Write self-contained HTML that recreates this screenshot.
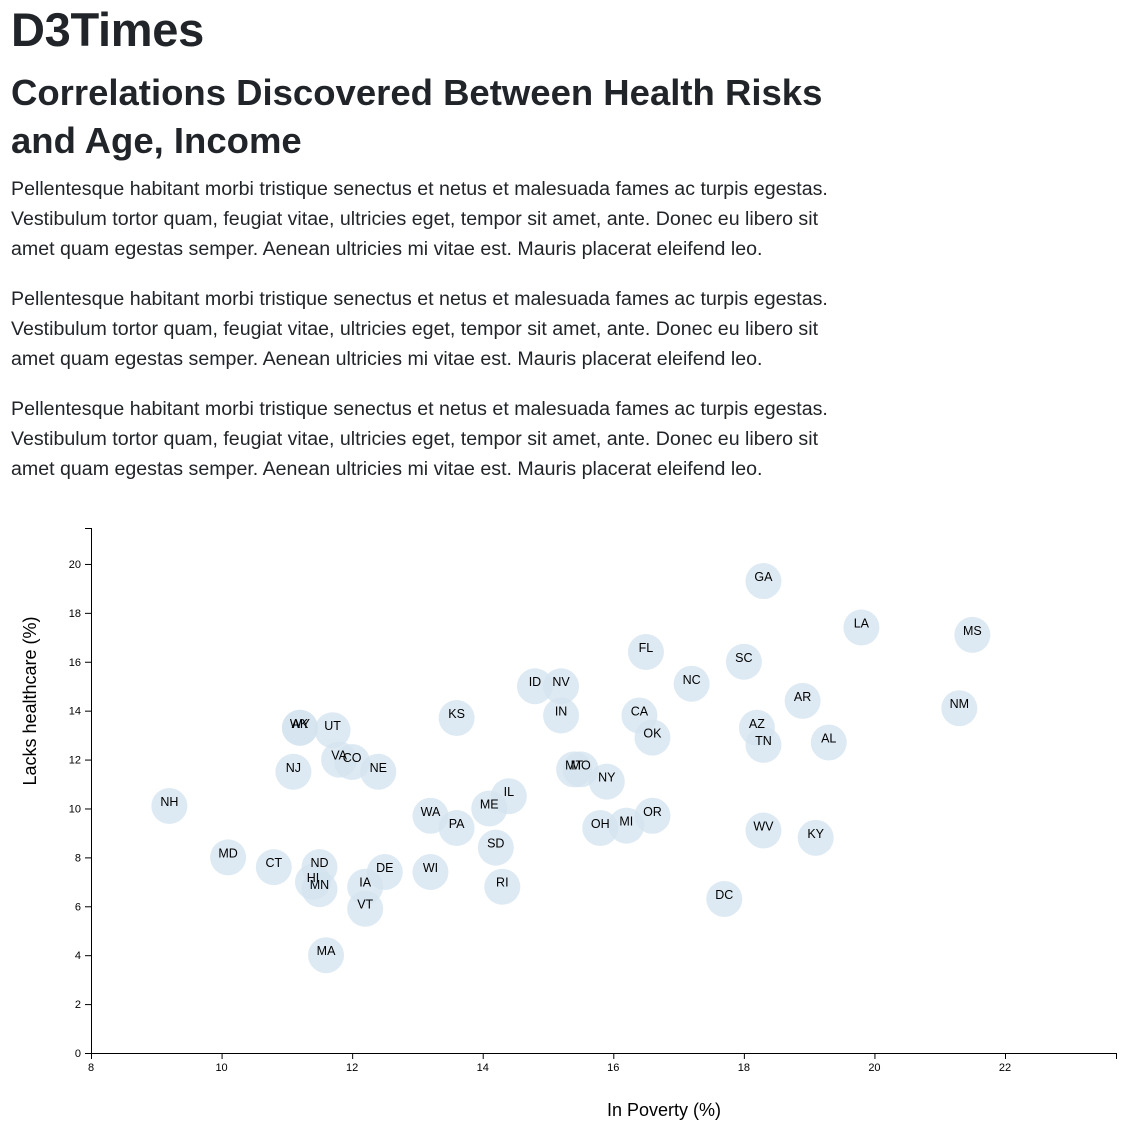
<!DOCTYPE html>
<html><head><meta charset="utf-8">
<style>
body{margin:0;background:#fff;color:#212529;font-family:"Liberation Sans",sans-serif;width:1148px;height:1139px;overflow:hidden;position:relative}
.h1{position:absolute;left:11px;top:2px;font-size:47px;line-height:56px;margin:0;font-weight:bold;letter-spacing:-0.3px}
.h2{position:absolute;left:11px;top:69px;font-size:36.5px;line-height:48px;margin:0;font-weight:bold;white-space:nowrap}
.p{position:absolute;left:11px;font-size:19.6px;line-height:30px;margin:0;white-space:nowrap}
svg{position:absolute;left:0;top:0}
</style></head><body>
<h1 class="h1">D3Times</h1>
<h2 class="h2">Correlations Discovered Between Health Risks<br>and Age, Income</h2>
<p class="p" style="top:174px">Pellentesque habitant morbi tristique senectus et netus et malesuada fames ac turpis egestas.<br>Vestibulum tortor quam, feugiat vitae, ultricies eget, tempor sit amet, ante. Donec eu libero sit<br>amet quam egestas semper. Aenean ultricies mi vitae est. Mauris placerat eleifend leo.</p>
<p class="p" style="top:284px">Pellentesque habitant morbi tristique senectus et netus et malesuada fames ac turpis egestas.<br>Vestibulum tortor quam, feugiat vitae, ultricies eget, tempor sit amet, ante. Donec eu libero sit<br>amet quam egestas semper. Aenean ultricies mi vitae est. Mauris placerat eleifend leo.</p>
<p class="p" style="top:394px">Pellentesque habitant morbi tristique senectus et netus et malesuada fames ac turpis egestas.<br>Vestibulum tortor quam, feugiat vitae, ultricies eget, tempor sit amet, ante. Donec eu libero sit<br>amet quam egestas semper. Aenean ultricies mi vitae est. Mauris placerat eleifend leo.</p>
<svg id="chart" width="1148" height="1139"></svg>
<script>
const states=["NH","MD","CT","ND","HI","MN","IA","DE","VT","MA","WI","RI","SD","WA","PA","ME","IL","NJ","VA","CO","NE","WY","AK","UT","KS","ID","NV","IN","MT","MO","NY","OH","MI","OR","CA","OK","FL","NC","SC","GA","LA","MS","AR","NM","AZ","TN","AL","WV","KY","DC"];
const poverty=[9.2,10.1,10.8,11.5,11.4,11.5,12.2,12.5,12.2,11.6,13.2,14.3,14.2,13.2,13.6,14.1,14.4,11.1,11.8,12.0,12.4,11.2,11.2,11.7,13.6,14.8,15.2,15.2,15.4,15.5,15.9,15.8,16.2,16.6,16.4,16.6,16.5,17.2,18.0,18.3,19.8,21.5,18.9,21.3,18.2,18.3,19.3,18.3,19.1,17.7];
const healthcare=[10.1,8.0,7.6,7.6,7.0,6.7,6.8,7.4,5.9,4.0,7.4,6.8,8.4,9.7,9.2,10.0,10.5,11.5,12.0,11.9,11.5,13.3,13.3,13.2,13.7,15.0,15.0,13.8,11.6,11.6,11.1,9.2,9.3,9.7,13.8,12.9,16.4,15.1,16.0,19.3,17.4,17.1,14.4,14.1,13.3,12.6,12.7,9.1,8.8,6.3];
const xTicks=[8,10,12,14,16,18,20,22];
const yTicks=[0,2,4,6,8,10,12,14,16,18,20];
const NS="http://www.w3.org/2000/svg";
const svg=document.getElementById('chart');
const X0=91,X1=1116,Y0=1053,Y1=528;
const xMin=8,xMax=23.7,yMin=0,yMax=21.47;
const xs=v=>X0+(v-xMin)/(xMax-xMin)*(X1-X0);
const ys=v=>Y0-(v-yMin)/(yMax-yMin)*(Y0-Y1);
function mk(t,a,p){const e=document.createElementNS(NS,t);for(const k in a)e.setAttribute(k,a[k]);(p||svg).appendChild(e);return e;}
const g=mk('g',{});


states.forEach((s,i)=>{
  const c=mk('circle',{cx:xs(poverty[i]),cy:ys(healthcare[i]),r:18,fill:'#d3e3ef','fill-opacity':0.75},g);
  
  
});
states.forEach((s,i)=>{
  const t=mk('text',{x:xs(poverty[i]),y:ys(healthcare[i]),'text-anchor':'middle','font-size':12.5,'font-family':'Liberation Sans, sans-serif',fill:'#000'},g);
  t.textContent=s;
  
  
});
const ax=mk('g',{stroke:'#000','stroke-width':1,fill:'none'});


mk('path',{d:`M${X0-6},${Y1+.5}H${X0+.5}V${Y0+.5}H${X1+.5}V${Y0+6}`},ax);
xTicks.forEach(v=>{
  mk('line',{x1:xs(v)+.5,x2:xs(v)+.5,y1:Y0,y2:Y0+6},ax);
  const t=mk('text',{x:xs(v),y:Y0+18,'text-anchor':'middle','font-size':11,'font-family':'Liberation Sans, sans-serif',fill:'#000'});
  t.textContent=v;
  
  
});
yTicks.forEach(v=>{
  mk('line',{x1:X0-6,x2:X0,y1:ys(v)+.5,y2:ys(v)+.5},ax);
  const t=mk('text',{x:X0-10,y:ys(v)+4,'text-anchor':'end','font-size':11,'font-family':'Liberation Sans, sans-serif',fill:'#000'});
  t.textContent=v;
  
  
});
const xt=mk('text',{x:664,y:1116,'text-anchor':'middle','font-size':18,'font-family':'Liberation Sans, sans-serif',fill:'#000'});
xt.textContent='In Poverty (%)';


const yt=mk('text',{x:0,y:0,'text-anchor':'middle','font-size':18,'font-family':'Liberation Sans, sans-serif',fill:'#000',transform:'translate(36,701) rotate(-90)'});
yt.textContent='Lacks healthcare (%)';


</script>
</body></html>
